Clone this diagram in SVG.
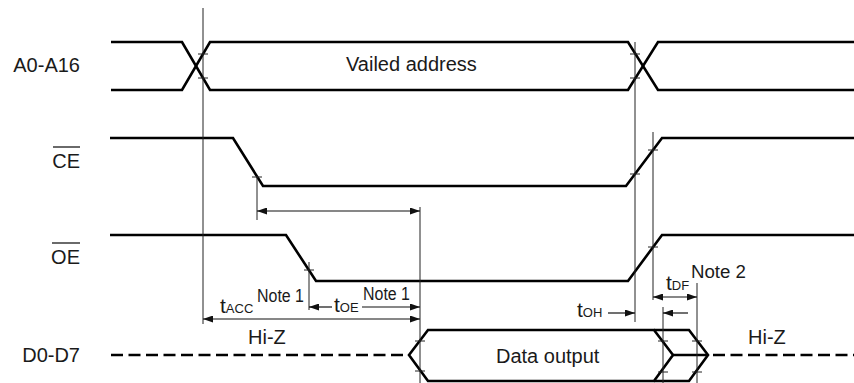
<svg xmlns="http://www.w3.org/2000/svg" width="854" height="383" viewBox="0 0 854 383">
<defs>
<marker id="ah" markerUnits="userSpaceOnUse" markerWidth="10" markerHeight="7" refX="10" refY="3.5" orient="auto-start-reverse">
<path d="M0,0 L10,3.5 L0,7 z" fill="#111"/>
</marker>
</defs>
<style>
.sig{fill:none;stroke:#000;stroke-width:2.6;stroke-linejoin:miter}
.dash{fill:none;stroke:#000;stroke-width:2.6;stroke-dasharray:12 5.5}
.ref{fill:none;stroke:#222;stroke-width:1}
.tick{fill:none;stroke:#222;stroke-width:1}
.dim{fill:none;stroke:#111;stroke-width:1.2}
.lbl{font-family:"Liberation Sans",Arial,sans-serif;font-size:20px;fill:#1a1a1a}
.note{font-family:"Liberation Sans",Arial,sans-serif;font-size:18px;fill:#1a1a1a}
.tt{font-family:"Liberation Sans",Arial,sans-serif;font-size:21px;fill:#1a1a1a}
.sub{font-size:13px}
.ovl{stroke:#1a1a1a;stroke-width:1.3}
</style>
<rect width="854" height="383" fill="#fff"/>

<g id="labels">
<text class="lbl" x="80" y="72" text-anchor="end">A0-A16</text>
<text class="lbl" x="80" y="168" text-anchor="end">CE</text>
<line class="ovl" x1="53" y1="147" x2="80" y2="147"/>
<text class="lbl" x="80" y="264" text-anchor="end">OE</text>
<line class="ovl" x1="52" y1="243" x2="80" y2="243"/>
<text class="lbl" x="80" y="362" text-anchor="end">D0-D7</text>
</g>

<g id="sig-addr">
<polyline class="sig" points="111,42 182,42 210,90 628,90 658,42 854,42"/>
<polyline class="sig" points="111,90 182,90 210,42 628,42 658,90 854,90"/>
<text class="lbl" x="346" y="71">Vailed address</text>
</g>

<g id="sig-ce">
<polyline class="sig" points="110,138 233,138 263,186 626,186 662,138 854,138"/>
</g>

<g id="sig-oe">
<polyline class="sig" points="110,235 286,235 316,281 628,281 662,235 854,235"/>
</g>

<g id="sig-data">
<line class="dash" x1="111" y1="355" x2="406" y2="355"/>
<polygon class="sig" points="409,355 428,330 654,330 673,355 654,381 428,381"/>
<polyline class="sig" points="654,330 689,330 708,355 689,381 654,381"/>
<line class="sig" x1="673" y1="355" x2="708" y2="355"/>
<line class="dash" x1="713" y1="355" x2="854" y2="355"/>
<text class="lbl" x="496" y="363">Data output</text>
<text class="lbl" x="248" y="344">Hi-Z</text>
<text class="lbl" x="748" y="344">Hi-Z</text>
</g>

<g id="refs">
<line class="ref" x1="203" y1="8" x2="203" y2="324"/>
<line class="ref" x1="257" y1="176" x2="257" y2="220"/>
<line class="ref" x1="309" y1="262" x2="309" y2="310"/>
<line class="ref" x1="420" y1="207" x2="420" y2="383"/>
<line class="ref" x1="635" y1="42" x2="635" y2="322"/>
<line class="ref" x1="653" y1="132" x2="653" y2="300"/>
<line class="ref" x1="663" y1="307" x2="663" y2="383"/>
<line class="ref" x1="697" y1="283" x2="697" y2="383"/>
<path class="tick" d="M198,54h10M198,78h10M630,54h10M630,78h10M252,177h10M630,174h10M648,150h10M304,270h10M648,247h10M415,341h10M415,371h10M658,341h10M658,372h10M692,341h10M692,372h10"/>
</g>

<g id="connectors">
<line class="dim" x1="257" y1="211" x2="420" y2="211" marker-start="url(#ah)" marker-end="url(#ah)"/>
<line class="dim" x1="203" y1="319" x2="420" y2="319" marker-start="url(#ah)" marker-end="url(#ah)"/>
<line class="dim" x1="309" y1="307" x2="332" y2="307" marker-start="url(#ah)"/>
<line class="dim" x1="362" y1="307" x2="420" y2="307" marker-end="url(#ah)"/>
<line class="dim" x1="653" y1="297" x2="697" y2="297" marker-start="url(#ah)" marker-end="url(#ah)"/>
<line class="dim" x1="608" y1="313" x2="635" y2="313" marker-end="url(#ah)"/>
<line class="dim" x1="688" y1="313" x2="663" y2="313" marker-end="url(#ah)"/>
</g>

<g id="timing-labels">
<text class="tt" x="220" y="313">t<tspan class="sub">ACC</tspan></text>
<text class="note" x="257" y="302" textLength="47" lengthAdjust="spacingAndGlyphs">Note 1</text>
<text class="tt" x="334" y="312">t<tspan class="sub">OE</tspan></text>
<text class="note" x="363" y="300" textLength="47" lengthAdjust="spacingAndGlyphs">Note 1</text>
<text class="tt" x="666" y="290">t<tspan class="sub">DF</tspan></text>
<text class="note" x="691" y="278" textLength="55" lengthAdjust="spacingAndGlyphs">Note 2</text>
<text class="tt" x="577" y="317">t<tspan class="sub">OH</tspan></text>
</g>
</svg>
